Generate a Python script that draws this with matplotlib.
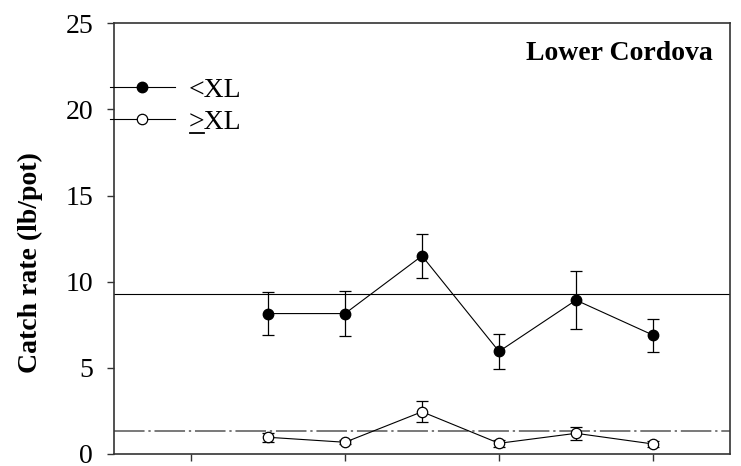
import numpy as np
import matplotlib
matplotlib.use("Agg")
import matplotlib.pyplot as plt
from matplotlib.lines import Line2D

plt.rcParams['font.family'] = ['Liberation Serif', 'DejaVu Serif']

# sample periods (x positions), tick spots have no labels in the original
periods = [2, 3, 4, 5, 6, 7]
tick_pos = [1, 3, 5, 7]

# <XL crab catch rate (lb/pot), mean and SE
small_mean = [8.15, 8.15, 11.5, 5.95, 8.93, 6.9]
small_err = [1.26, 1.3, 1.29, 1.0, 1.67, 0.96]
# >=XL crab catch rate
large_mean = [0.97, 0.68, 2.45, 0.62, 1.2, 0.58]
large_err = [0.25, 0.12, 0.6, 0.2, 0.36, 0.2]

# long term averages
small_avg = 9.29
large_avg = 1.33

fig = plt.figure(figsize=(7.41, 4.66), dpi=100)
ax = fig.add_axes([0.1538, 0.0258, 0.8314, 0.9242])

ax.axhline(small_avg, color='black', lw=0.8, zorder=1)
ref, = ax.plot([0, 8], [large_avg, large_avg], color='#555555', lw=1.1, zorder=1)
ref.set_dashes((20, 2.5, 1.5, 2.5))

ax.errorbar(periods, small_mean, yerr=small_err, fmt='none', ecolor='black',
            elinewidth=0.9, capsize=4.5, capthick=0.9, zorder=2)
ax.errorbar(periods, large_mean, yerr=large_err, fmt='none', ecolor='black',
            elinewidth=0.9, capsize=4.5, capthick=0.9, zorder=2)
ax.plot(periods, small_mean, '-o', color='black', lw=0.8, ms=7.5,
        mfc='black', mec='black', label='<XL', zorder=3)
ax.plot(periods, large_mean, '-o', color='black', lw=0.8, ms=7.5,
        mfc='white', mec='black', mew=0.9, label='>XL', zorder=3)

ax.set_xlim(0, 8)
ax.set_ylim(0, 25)
ax.set_xticks(tick_pos)
ax.set_xticklabels([])
ax.set_yticks([0, 5, 10, 15, 20, 25])
ax.tick_params(axis='both', direction='out', length=5, width=1.0, colors='#333333',
               labelsize=20, labelcolor='black')
ax.tick_params(axis='y', pad=10)
for s in ax.spines.values():
    s.set_linewidth(1.2)
    s.set_color('#333333')

ax.set_ylabel('Catch rate (lb/pot)', fontsize=20, fontweight='bold', va='center')
ax.yaxis.set_label_coords(-0.136, 0.445)

ax.text(0.9724, 0.9294, 'Lower Cordova', transform=ax.transAxes, ha='right',
        va='center', fontsize=20, fontweight='bold')

leg = ax.legend(loc='upper left', bbox_to_anchor=(-0.0065, 0.8746), frameon=False,
                fontsize=20, handlelength=2.34, handletextpad=0.5, borderpad=0,
                borderaxespad=0, labelspacing=0.23)

# underline the ">" so it reads as "greater or equal"
fig.canvas.draw()
renderer = fig.canvas.get_renderer()
lab = leg.get_texts()[1]
bb = lab.get_window_extent(renderer)
tmp = fig.text(0, 0, '>', fontsize=20)
gw = tmp.get_window_extent(renderer).width
tmp.remove()
uy = bb.y0 + 2
fig.add_artist(Line2D([bb.x0 + 1, bb.x0 + gw], [uy, uy], color='black', lw=1.3,
                      transform=None))

fig.savefig('out.png', dpi=100)
